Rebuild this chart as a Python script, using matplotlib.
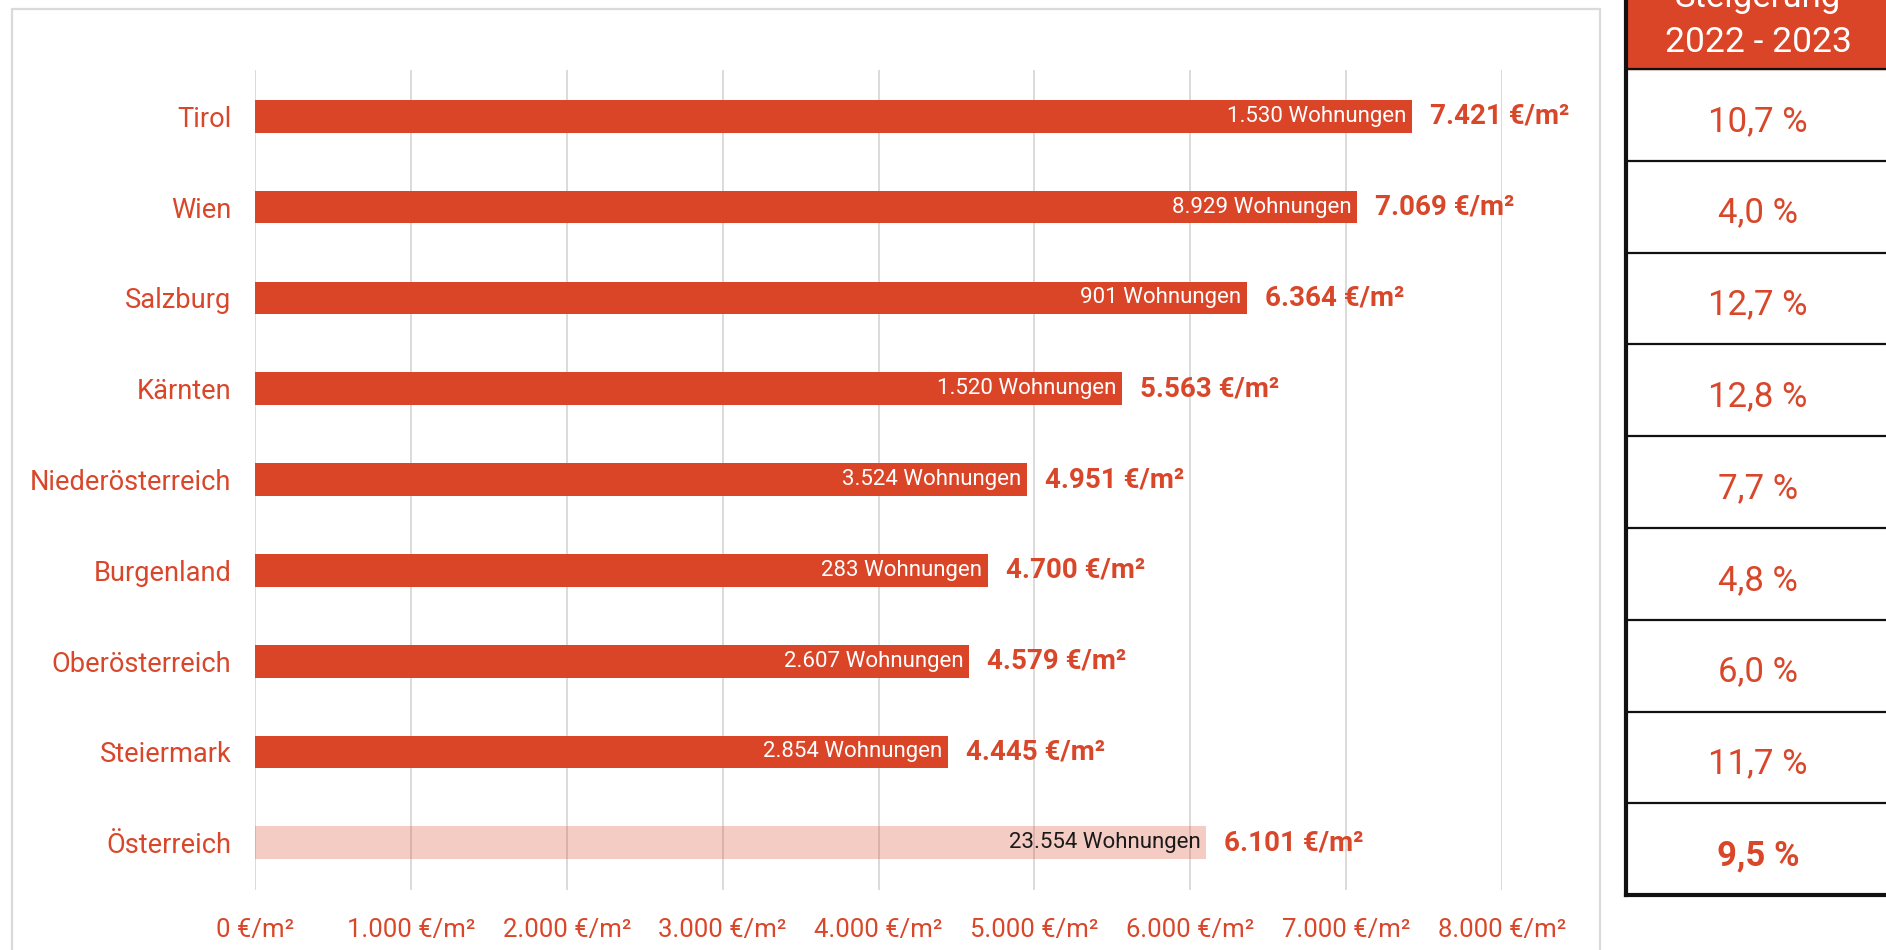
import matplotlib
matplotlib.use("Agg")
import matplotlib.pyplot as plt
from matplotlib.patches import Rectangle

# Average price per m² by federal state, number of flats sold and change 2022-2023
regions = ["Tirol", "Wien", "Salzburg", "Kärnten", "Niederösterreich",
           "Burgenland", "Oberösterreich", "Steiermark", "Österreich"]
price_per_m2 = [7421, 7069, 6364, 5563, 4951, 4700, 4579, 4445, 6101]
flats_sold = [1530, 8929, 901, 1520, 3524, 283, 2607, 2854, 23554]
growth_pct = [10.7, 4.0, 12.7, 12.8, 7.7, 4.8, 6.0, 11.7, 9.5]
x_ticks = [0, 1000, 2000, 3000, 4000, 5000, 6000, 7000, 8000]
header_lines = ["Steigerung", "2022 - 2023"]

RED = "#DA4427"
TEXT_RED = "#D9472B"
GRID = "#DADADA"
FONT = "Roboto"

plt.rcParams["font.family"] = [FONT, "DejaVu Sans"]


def de_int(n):
    return f"{n:,}".replace(",", ".")


def de_pct(v):
    return f"{v:.1f}".replace(".", ",") + " %"


W, H = 1886, 950
fig = plt.figure(figsize=(W / 100, H / 100), dpi=100)
fig.patch.set_facecolor("white")

# outer light frame around the bar chart
fig.add_artist(Rectangle((12 / W, -0.1), (1600 - 12) / W, 1 - 9 / H + 0.1,
                         transform=fig.transFigure, fill=False,
                         ec=GRID, lw=1.6))

ax = fig.add_axes([255 / W, 1 - 890 / H, (1502 - 255) / W, (890 - 70) / H])
ypos = list(range(len(regions)))
n = len(regions)
alphas = [1.0] * (n - 1) + [0.27]
for i in ypos:
    ax.barh(i, price_per_m2[i], height=0.36, color=RED, alpha=alphas[i],
            zorder=2)

ax.set_xlim(0, 8000)
ax.set_ylim(8.52, -0.51)
ax.set_xticks(x_ticks)
ax.set_xticklabels([f"{de_int(t)} €/m²" for t in x_ticks])
ax.set_yticks(ypos)
ax.set_yticklabels(regions)
ax.grid(axis="x", color=GRID, lw=1.4, zorder=0)
ax.grid(axis="y", visible=False)
ax.set_axisbelow(True)
for s in ax.spines.values():
    s.set_visible(False)
ax.tick_params(axis="y", length=0, pad=17, labelsize=19.6, labelcolor=TEXT_RED)
ax.tick_params(axis="x", length=0, pad=20, labelsize=18.5, labelcolor=TEXT_RED)

for i in ypos:
    inner_color = "white" if i < n - 1 else "#1a1a1a"
    ax.annotate(f"{de_int(flats_sold[i])} Wohnungen", (price_per_m2[i], i),
                xytext=(-4, 0), textcoords="offset points",
                ha="right", va="center", fontsize=16, color=inner_color,
                zorder=3)
    ax.annotate(f"{de_int(price_per_m2[i])} €/m²", (price_per_m2[i], i),
                xytext=(13, 0), textcoords="offset points",
                ha="left", va="center", fontsize=20, fontweight="bold",
                color=TEXT_RED, zorder=3)

# growth table on the right
row_h = 91.8
top = 69 - row_h
tab = fig.add_axes([1626 / W, 1 - (top + 10 * row_h) / H,
                    (1890 - 1626) / W, (10 * row_h) / H])
tab.set_xlim(0, 1)
tab.set_ylim(10, 0)
tab.axis("off")
tab.add_patch(Rectangle((0, -1), 1, 2, color=RED, clip_on=False))
tab.text(0.5, (-2 - top) / row_h, header_lines[0], ha="center", va="center",
         fontsize=25, color="white", clip_on=False)
tab.text(0.5, (43 - top) / row_h, header_lines[1], ha="center", va="center",
         fontsize=25.5, color="white")
for k in range(1, 10):
    tab.plot([0, 1], [k, k], color="#111111", lw=1.6, clip_on=False)
tab.plot([0, 1], [10, 10], color="#111111", lw=3, clip_on=False)
tab.plot([0, 0], [-1, 10], color="#111111", lw=3, clip_on=False)
for k, v in enumerate(growth_pct):
    last = k == len(growth_pct) - 1
    tab.text(0.5, k + 1.57, de_pct(v), ha="center", va="center",
             fontsize=25, color=TEXT_RED,
             fontweight="bold" if last else "normal")

fig.savefig("out.png", dpi=100, facecolor="white")
